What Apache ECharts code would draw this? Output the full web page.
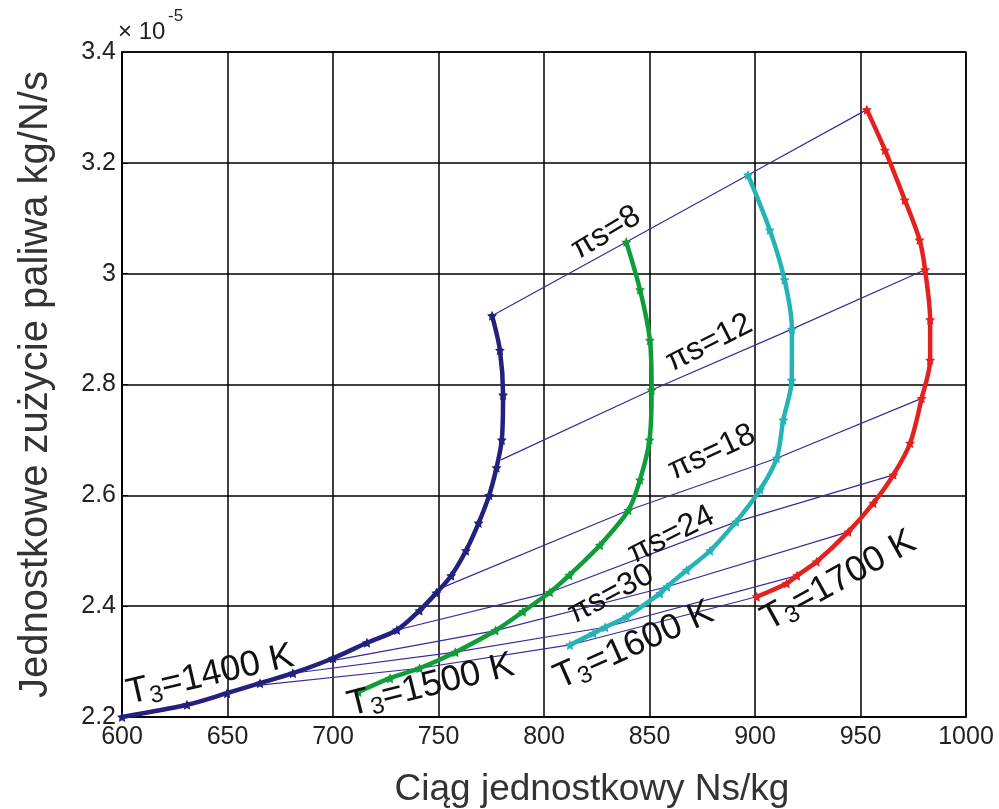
<!DOCTYPE html>
<html><head><meta charset="utf-8">
<script src="https://cdn.jsdelivr.net/npm/echarts@6/dist/echarts.min.js"></script>
<style>html,body{margin:0;padding:0;background:#fff}#c{width:999px;height:809px}</style>
</head><body><div id="c"></div>
<script>
// Curves: [thrust Ns/kg, SFC x1e-5 kg/N/s]
const t1400 = [[600,2.2],[630.8,2.222],[649.8,2.243],[665.4,2.261],[681,2.279],[700,2.306],[716.1,2.334],[730.3,2.357],[741,2.392],[749,2.424],[756,2.455],[763,2.5],[769,2.55],[774,2.6],[777.5,2.65],[780,2.7],[780.6,2.781],[779.1,2.862],[775.4,2.924]];
const t1500 = [[712,2.245],[727,2.27],[741,2.288],[758,2.317],[777,2.356],[790,2.39],[802.8,2.425],[812,2.456],[826.5,2.51],[840,2.573],[845.5,2.628],[850,2.70],[851,2.79],[850.2,2.88],[845.5,2.971],[839,3.057]];
const t1600 = [[812.3,2.33],[823.4,2.351],[829,2.362],[839.2,2.381],[855,2.423],[858.3,2.435],[867.6,2.465],[878.7,2.5],[891,2.552],[902.4,2.61],[910.3,2.667],[913.4,2.736],[917.4,2.808],[917.5,2.9],[914,2.989],[907,3.079],[896.7,3.178]];
const t1700 = [[900.8,2.417],[915,2.441],[919.9,2.455],[929.2,2.48],[944.2,2.534],[956.1,2.586],[965.6,2.637],[973.5,2.694],[979,2.775],[983,2.844],[983,2.917],[980.6,3.007],[978,3.061],[971,3.133],[961.6,3.223],[953,3.296]];
// Constant compression-ratio lines
const ps8  = [[775.4,2.924],[839,3.057],[896.7,3.178],[953,3.296]];
const ps12 = [[779.6,2.664],[851,2.79],[917.5,2.9],[980.6,3.007]];
const ps18 = [[752,2.434],[840,2.573],[910.3,2.667],[979,2.775]];
const ps24 = [[730.3,2.357],[802.8,2.425],[891,2.552],[965.6,2.637]];
const ps30 = [[697.2,2.3],[777,2.356],[858.3,2.435],[944.2,2.534]];
const ps36 = [[681,2.279],[758,2.317],[829,2.362],[919.9,2.455]];
const ps42 = [[662,2.256],[741,2.288],[812.3,2.33],[900.8,2.417]];
const xTicks = [600,650,700,750,800,850,900,950,1000];
const yTicks = [2.2,2.4,2.6,2.8,3.0,3.2,3.4];

const FONT = '"Liberation Sans", Arial, sans-serif';
const star = 'path://M0,-10L2.9,-4L9.5,-3.1L4.8,1.5L5.9,8.1L0,5L-5.9,8.1L-4.8,1.5L-9.5,-3.1L-2.9,-4Z';
const psColor = '#3a2a98';
function psSeries(d){return {type:'line',data:d,showSymbol:false,lineStyle:{color:psColor,width:1.2},z:2,silent:true};}
function curve(d,c){return {type:'line',data:d,smooth:0.3,symbol:star,symbolSize:10,showAllSymbol:true,
  itemStyle:{color:c},lineStyle:{color:c,width:4.5},z:3,silent:true};}
const deg = Math.PI/180;
function lbl(x,y,rot,rich,text,fs){
  return {type:'text',x:x,y:y,rotation:rot*deg,z:10,
    style:{text:text,fill:'#111',font:fs+'px '+FONT,align:'left',verticalAlign:'middle',rich:rich}};
}
const tRich = {a:{fontSize:36,fontFamily:FONT,color:'#111'},s:{fontSize:24,fontFamily:FONT,color:'#111',padding:[16,0,0,0]}};
const chart = echarts.init(document.getElementById('c'),null,{renderer:'canvas'});
chart.setOption({
  animation:false,
  grid:{left:122,right:33,top:52,bottom:92,show:true,borderColor:'#000',borderWidth:1.5,outerBoundsMode:'none',containLabel:false},
  xAxis:{type:'value',min:xTicks[0],max:xTicks[xTicks.length-1],interval:50,
    name:'Ciąg jednostkowy Ns/kg',nameLocation:'middle',nameGap:54,
    nameTextStyle:{fontFamily:FONT,fontSize:37,color:'#333',padding:[0,0,0,96]},
    axisLine:{lineStyle:{color:'#000',width:1.5}},axisTick:{show:false},
    axisLabel:{fontFamily:FONT,fontSize:25,color:'#222',margin:8,formatter:v=>String(v)},
    splitLine:{lineStyle:{color:'#000',width:1.5}}},
  yAxis:{type:'value',min:yTicks[0],max:yTicks[yTicks.length-1],interval:0.2,
    name:'Jednostkowe zużycie paliwa kg/N/s',nameLocation:'middle',nameGap:66,
    nameTextStyle:{fontFamily:FONT,fontSize:40,color:'#333'},
    axisLine:{lineStyle:{color:'#000',width:1.5}},axisTick:{show:true,inside:true,length:6,lineStyle:{color:'#000'}},
    axisLabel:{fontFamily:FONT,fontSize:25,color:'#222',margin:6,formatter:v=>String(+v.toFixed(1))},
    splitLine:{lineStyle:{color:'#000',width:1.5}}},
  series:[psSeries(ps8),psSeries(ps12),psSeries(ps18),psSeries(ps24),psSeries(ps30),psSeries(ps36),psSeries(ps42),
    curve(t1400,'#23207f'),curve(t1500,'#0f9d3a'),curve(t1600,'#25b3b5'),curve(t1700,'#e3221f')],
  graphic:[
    {type:'text',x:118,y:32,z:10,style:{text:'× 10',font:'24px '+FONT,fill:'#222',verticalAlign:'middle'}},
    {type:'text',x:168,y:16,z:10,style:{text:'-5',font:'17px '+FONT,fill:'#222',verticalAlign:'middle'}},
    lbl(127,694,13,tRich,'{a|T}{s|3}{a|=1400 K}',36),
    lbl(348,706,14,tRich,'{a|T}{s|3}{a|=1500 K}',36),
    lbl(556,680,24,tRich,'{a|T}{s|3}{a|=1600 K}',36),
    lbl(764,622,29,tRich,'{a|T}{s|3}{a|=1700 K}',36),
    lbl(574,252,31,null,'πs=8',32),
    lbl(668,364,27,null,'πs=12',32),
    lbl(670,472,25,null,'πs=18',32),
    lbl(630,556,27,null,'πs=24',32),
    lbl(570,616,28,null,'πs=30',32)
  ]
});
</script></body></html>
